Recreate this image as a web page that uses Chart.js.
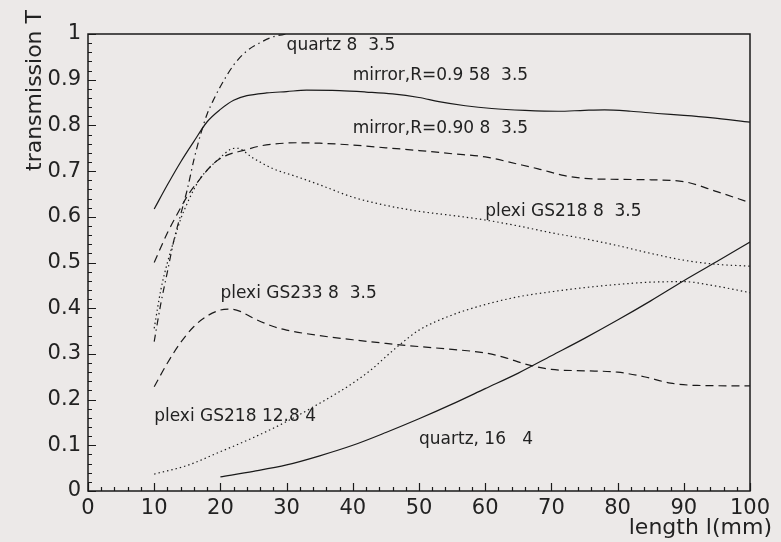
<!DOCTYPE html>
<html>
<head>
<meta charset="utf-8">
<script src="https://cdn.jsdelivr.net/npm/chart.js@4/dist/chart.umd.min.js"></script>
<style>
  html, body { margin: 0; padding: 0; background: #ece9e8; }
  #wrap { width: 781px; height: 542px; position: relative; }
</style>
</head>
<body>
<div id="wrap"><canvas id="c" width="781" height="542"></canvas></div>
<script>
// Transmission T versus length l(mm) for several light guides.
// Each series: x positions (mm) and transmission values.
const mirror958X = [10, 12, 14, 16, 18, 20, 22, 24, 27, 30, 33, 38, 42, 46, 50, 53, 57, 61, 66, 71, 75, 78, 82, 86, 90, 94, 100];
const mirror958Y = [0.617, 0.67, 0.72, 0.765, 0.808, 0.835, 0.855, 0.865, 0.871, 0.874, 0.877, 0.876, 0.873, 0.869, 0.861, 0.852, 0.843, 0.837, 0.833, 0.831, 0.833, 0.834, 0.831, 0.826, 0.822, 0.817, 0.807];

const mirror90X = [10, 12, 13, 15, 16.6, 19, 21, 23.7, 26, 28, 31.5, 35, 40, 45, 50, 55, 60, 65, 68, 72, 75, 80, 85, 90, 95, 100];
const mirror90Y = [0.50, 0.565, 0.593, 0.645, 0.677, 0.717, 0.735, 0.746, 0.755, 0.759, 0.762, 0.761, 0.757, 0.751, 0.745, 0.738, 0.731, 0.715, 0.705, 0.69, 0.684, 0.682, 0.681, 0.677, 0.655, 0.631];

const quartz8X = [10, 11, 12, 13, 14, 15, 16, 17, 18, 19, 20, 22, 24, 26, 28, 30];
const quartz8Y = [0.327, 0.41, 0.48, 0.55, 0.605, 0.66, 0.725, 0.78, 0.825, 0.857, 0.885, 0.932, 0.963, 0.981, 0.994, 1.0];

const plexi218X = [10, 11, 12, 13, 14, 15, 16, 17, 18, 20, 21.6, 22.5, 25, 28, 31.5, 35, 40, 45, 50, 55, 60, 65, 70, 75, 80, 85, 90, 95, 100];
const plexi218Y = [0.356, 0.44, 0.50, 0.549, 0.595, 0.63, 0.66, 0.685, 0.702, 0.73, 0.748, 0.75, 0.728, 0.705, 0.688, 0.67, 0.643, 0.625, 0.612, 0.603, 0.593, 0.58, 0.565, 0.552, 0.537, 0.52, 0.505, 0.496, 0.492];

const plexi233X = [10, 12, 14, 16, 18, 20, 21.5, 23, 25, 28, 30, 35, 40, 45, 50, 55, 60, 63, 66, 70, 75, 80, 84, 88, 92, 100];
const plexi233Y = [0.228, 0.28, 0.325, 0.36, 0.383, 0.396, 0.398, 0.393, 0.378, 0.36, 0.352, 0.34, 0.331, 0.323, 0.316, 0.31, 0.302, 0.292, 0.278, 0.266, 0.263, 0.26, 0.25, 0.236, 0.231, 0.23];

const plexi218thickX = [10, 15, 20, 25, 30, 35, 40, 43, 45, 47, 50, 55, 60, 65, 70, 75, 80, 85, 90, 95, 100];
const plexi218thickY = [0.037, 0.056, 0.086, 0.117, 0.152, 0.192, 0.236, 0.268, 0.294, 0.319, 0.352, 0.385, 0.408, 0.425, 0.436, 0.445, 0.452, 0.457, 0.458, 0.448, 0.434];

const quartz16X = [20, 25, 30, 35, 40, 45, 50, 55, 60, 65, 70, 75, 80, 85, 90, 95, 100];
const quartz16Y = [0.031, 0.043, 0.057, 0.077, 0.10, 0.128, 0.158, 0.19, 0.224, 0.258, 0.296, 0.334, 0.374, 0.416, 0.46, 0.502, 0.545];

// Axis ticks
const xTicks = [0, 10, 20, 30, 40, 50, 60, 70, 80, 90, 100];
const yTicks = [0, 0.1, 0.2, 0.3, 0.4, 0.5, 0.6, 0.7, 0.8, 0.9, 1];
const yTickLabels = ['0', '0.1', '0.2', '0.3', '0.4', '0.5', '0.6', '0.7', '0.8', '0.9', '1'];

// Curve captions, anchored in data coordinates (left edge, middle)
const captionText = ['quartz 8  3.5', 'mirror,R=0.9 58  3.5', 'mirror,R=0.90 8  3.5', 'plexi GS218 8  3.5', 'plexi GS233 8  3.5', 'plexi GS218 12.8 4', 'quartz, 16   4'];
const captionX = [30, 40, 40, 60, 20, 10, 50];
const captionY = [0.975, 0.91, 0.794, 0.611, 0.433, 0.163, 0.112];

const INK = '#1a1a1a';
const FONT = '"DejaVu Sans", sans-serif';

function pts(xs, ys) { return xs.map((x, i) => ({ x: x, y: ys[i] })); }

function series(label, xs, ys, dash) {
  return {
    label: label,
    data: pts(xs, ys),
    borderColor: INK,
    borderWidth: 1.2,
    borderDash: dash,
    pointRadius: 0,
    fill: false,
    cubicInterpolationMode: 'monotone'
  };
}

const SOLID = [], DASH = [8, 5], DOT = [1.4, 3], DASHDOT = [7, 4, 1.4, 4];

// Frame, inward tick marks, captions and axis titles
const decorations = {
  id: 'decorations',
  afterDatasetsDraw(chart) {
    const ctx = chart.ctx;
    const a = chart.chartArea;
    const xs = chart.scales.x, ys = chart.scales.y;
    ctx.save();
    ctx.strokeStyle = INK;
    ctx.lineWidth = 1.5;
    ctx.strokeRect(a.left, a.top, a.right - a.left, a.bottom - a.top);

    ctx.lineWidth = 1.2;
    ctx.beginPath();
    for (let k = 0; k <= 50; k++) {
      const v = k * 0.02;
      const py = Math.round(ys.getPixelForValue(v)) + 0.5;
      const len = (k % 5 === 0) ? 8 : 4;
      ctx.moveTo(a.left, py); ctx.lineTo(a.left + len, py);
    }
    for (let k = 0; k <= 50; k++) {
      const v = k * 2;
      const px = Math.round(xs.getPixelForValue(v)) + 0.5;
      const len = (k % 5 === 0) ? 8 : 4;
      ctx.moveTo(px, a.bottom); ctx.lineTo(px, a.bottom - len);
    }
    ctx.stroke();

    ctx.fillStyle = '#222';
    ctx.font = '17px ' + FONT;
    ctx.textAlign = 'left';
    ctx.textBaseline = 'middle';
    captionText.forEach((t, i) => {
      ctx.fillText(t, xs.getPixelForValue(captionX[i]), ys.getPixelForValue(captionY[i]));
    });

    ctx.font = '22px ' + FONT;
    ctx.textAlign = 'right';
    ctx.textBaseline = 'alphabetic';
    ctx.fillText('length l(mm)', 772, 534);

    ctx.save();
    ctx.translate(41, 10);
    ctx.rotate(-Math.PI / 2);
    ctx.textAlign = 'right';
    ctx.textBaseline = 'alphabetic';
    ctx.fillText('transmission T', 0, 0);
    ctx.restore();
    ctx.restore();
  }
};

new Chart(document.getElementById('c'), {
  type: 'line',
  data: {
    datasets: [
      series('quartz 8 3.5', quartz8X, quartz8Y, DASHDOT),
      series('mirror,R=0.9 58 3.5', mirror958X, mirror958Y, SOLID),
      series('mirror,R=0.90 8 3.5', mirror90X, mirror90Y, DASH),
      series('plexi GS218 8 3.5', plexi218X, plexi218Y, DOT),
      series('plexi GS233 8 3.5', plexi233X, plexi233Y, DASH),
      series('plexi GS218 12.8 4', plexi218thickX, plexi218thickY, DOT),
      series('quartz, 16 4', quartz16X, quartz16Y, SOLID)
    ]
  },
  options: {
    responsive: false,
    animation: false,
    devicePixelRatio: 1,
    layout: { padding: { left: 0, top: 34, right: 31, bottom: 0 } },
    plugins: { legend: { display: false }, tooltip: { enabled: false } },
    scales: {
      x: {
        type: 'linear',
        min: 0, max: 100,
        afterFit(s) { s.height = 51; },
        afterBuildTicks(s) { s.ticks = xTicks.map(v => ({ value: v })); },
        grid: { display: false, drawTicks: false },
        border: { display: false },
        ticks: {
          color: '#222',
          font: { family: FONT, size: 21 },
          padding: 5,
          maxRotation: 0,
          autoSkip: false,
          callback: v => String(v)
        }
      },
      y: {
        type: 'linear',
        min: 0, max: 1,
        afterFit(s) { s.width = 88; },
        afterBuildTicks(s) { s.ticks = yTicks.map(v => ({ value: v })); },
        grid: { display: false, drawTicks: false },
        border: { display: false },
        ticks: {
          color: '#222',
          font: { family: FONT, size: 21 },
          padding: 7,
          autoSkip: false,
          callback: (v) => { const i = yTicks.findIndex(t => Math.abs(t - v) < 1e-9); return i >= 0 ? yTickLabels[i] : ''; }
        }
      }
    }
  },
  plugins: [decorations]
});
</script>
</body>
</html>
